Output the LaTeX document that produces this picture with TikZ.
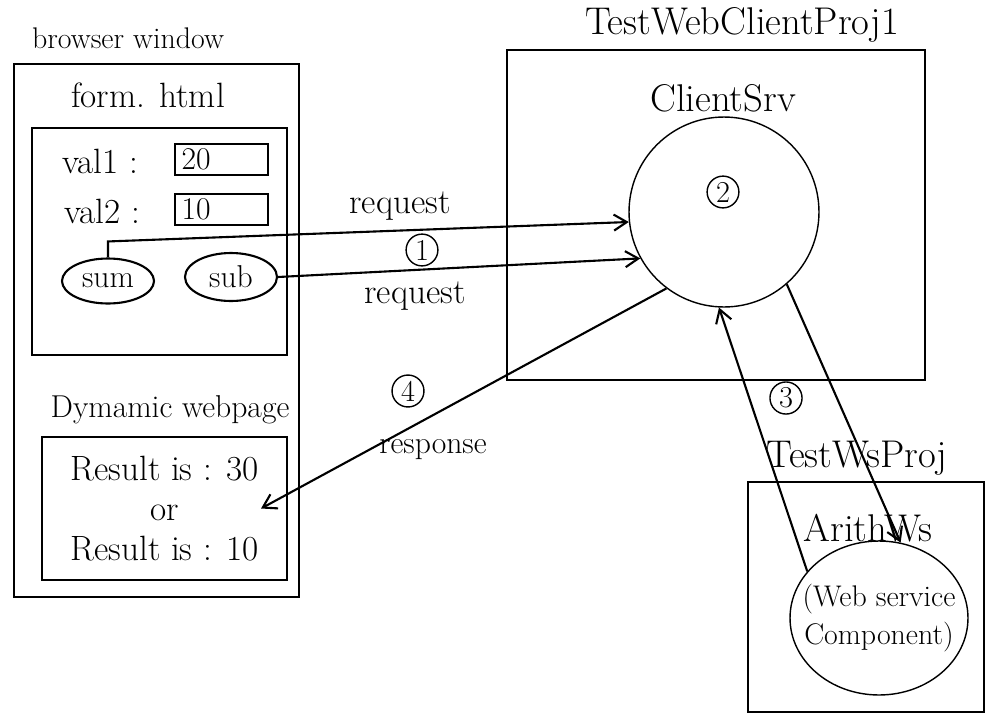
\documentclass[tikz,border=0pt]{standalone}
\usepackage{amsmath}
\usepackage{amssymb}
\usepackage{tikz}
\usetikzlibrary{shapes.geometric,arrows.meta}

\begin{document}
\begin{tikzpicture}[x=0.02cm,y=-0.02cm,font=\fontsize{18}{21}\selectfont,
			>={Straight Barb[length=2.6mm,width=3.2mm]},
			box/.style={draw,very thick,inner sep=0pt},
			field/.style={draw,very thick,text width=1.6cm,minimum height=0.62cm,inner xsep=0.13cm,inner ysep=0pt,align=left},
			btn/.style={draw,very thick,ellipse,inner sep=0pt,minimum width=1.84cm,minimum height=0.9cm},
			big/.style={font=\fontsize{22}{26}\selectfont},
			mid/.style={font=\fontsize{20}{24}\selectfont},
			num/.style={draw,thick,circle,inner sep=1.5pt,font=\LARGE}]
			\useasboundingbox (0,0) rectangle (987,717);
			% browser side
			\node[font=\fontsize{17}{20}\selectfont] at (128,38) {browser window};
			\node[box,minimum width=5.7cm,minimum height=10.66cm] (browser) at (156.5,330.5) {};
			\node[mid] at (148,95) {form. html};
			\node[box,minimum width=5.1cm,minimum height=4.54cm] (form) at (159.5,241.5) {};
			\node[mid] at (100,161) {val1 :};
			\node[mid] at (102,211) {val2 :};
			\node[field] (val1) at (221.5,159.5) {20};
			\node[field] (val2) at (221.5,209.5) {10};
			\node[btn] (sum) at (108,281) {sum};
			\node[btn,minimum height=0.96cm] (sub) at (231,277) {sub};
			\node at (170,410) {Dymamic webpage};
			\node[box,minimum width=4.9cm,minimum height=2.86cm,align=center,font=\fontsize{20}{23}\selectfont] (result) at (164.5,508.5) {Result is : 30\\or\\Result is : 10};
			% client project
			\node[big] at (742,25) {TestWebClientProj1};
			\node[box,minimum width=8.36cm,minimum height=6.6cm] (proj) at (716,215) {};
			\node[big] at (723,98) {ClientSrv};
			\node[draw,thick,circle,minimum size=3.8cm] (srv) at (724,212) {};
			\node[num] (n2) at (723,192) {2};
			% web service project
			\node[big] at (857,458) {TestWsProj};
			\node[box,minimum width=4.72cm,minimum height=4.6cm] (wsproj) at (866,597) {};
			\node[big] at (868,528) {ArithWs};
			\node[draw,thick,ellipse,inner sep=0pt,minimum width=3.56cm,minimum height=3.08cm] (arith) at (879,618) {};
			\node[align=center,font=\fontsize{17}{22}\selectfont] (wstext) at (arith.center) {(Web service\\Component)};
			% connectors
			\draw[very thick,->] (sum.north) -- ++(0,-16) -- (srv.186);
			\draw[very thick,->] (sub.east) -- (srv.209);
			\draw[very thick,->] (srv.233) -- ([xshift=-0.54cm]result.east);
			\draw[very thick,->] (arith.147) -- (srv.267);
			\draw[very thick,->] (srv.311) -- (arith.74);
			\node[mid] at (400,206) {request};
			\node[num] (n1) at (422,250) {1};
			\node[mid] at (415,296) {request};
			\node[num] (n4) at (408,391) {4};
			\node at (433,450) {response};
			\node[num] (n3) at (786,398) {3};
\end{tikzpicture}
\end{document}
